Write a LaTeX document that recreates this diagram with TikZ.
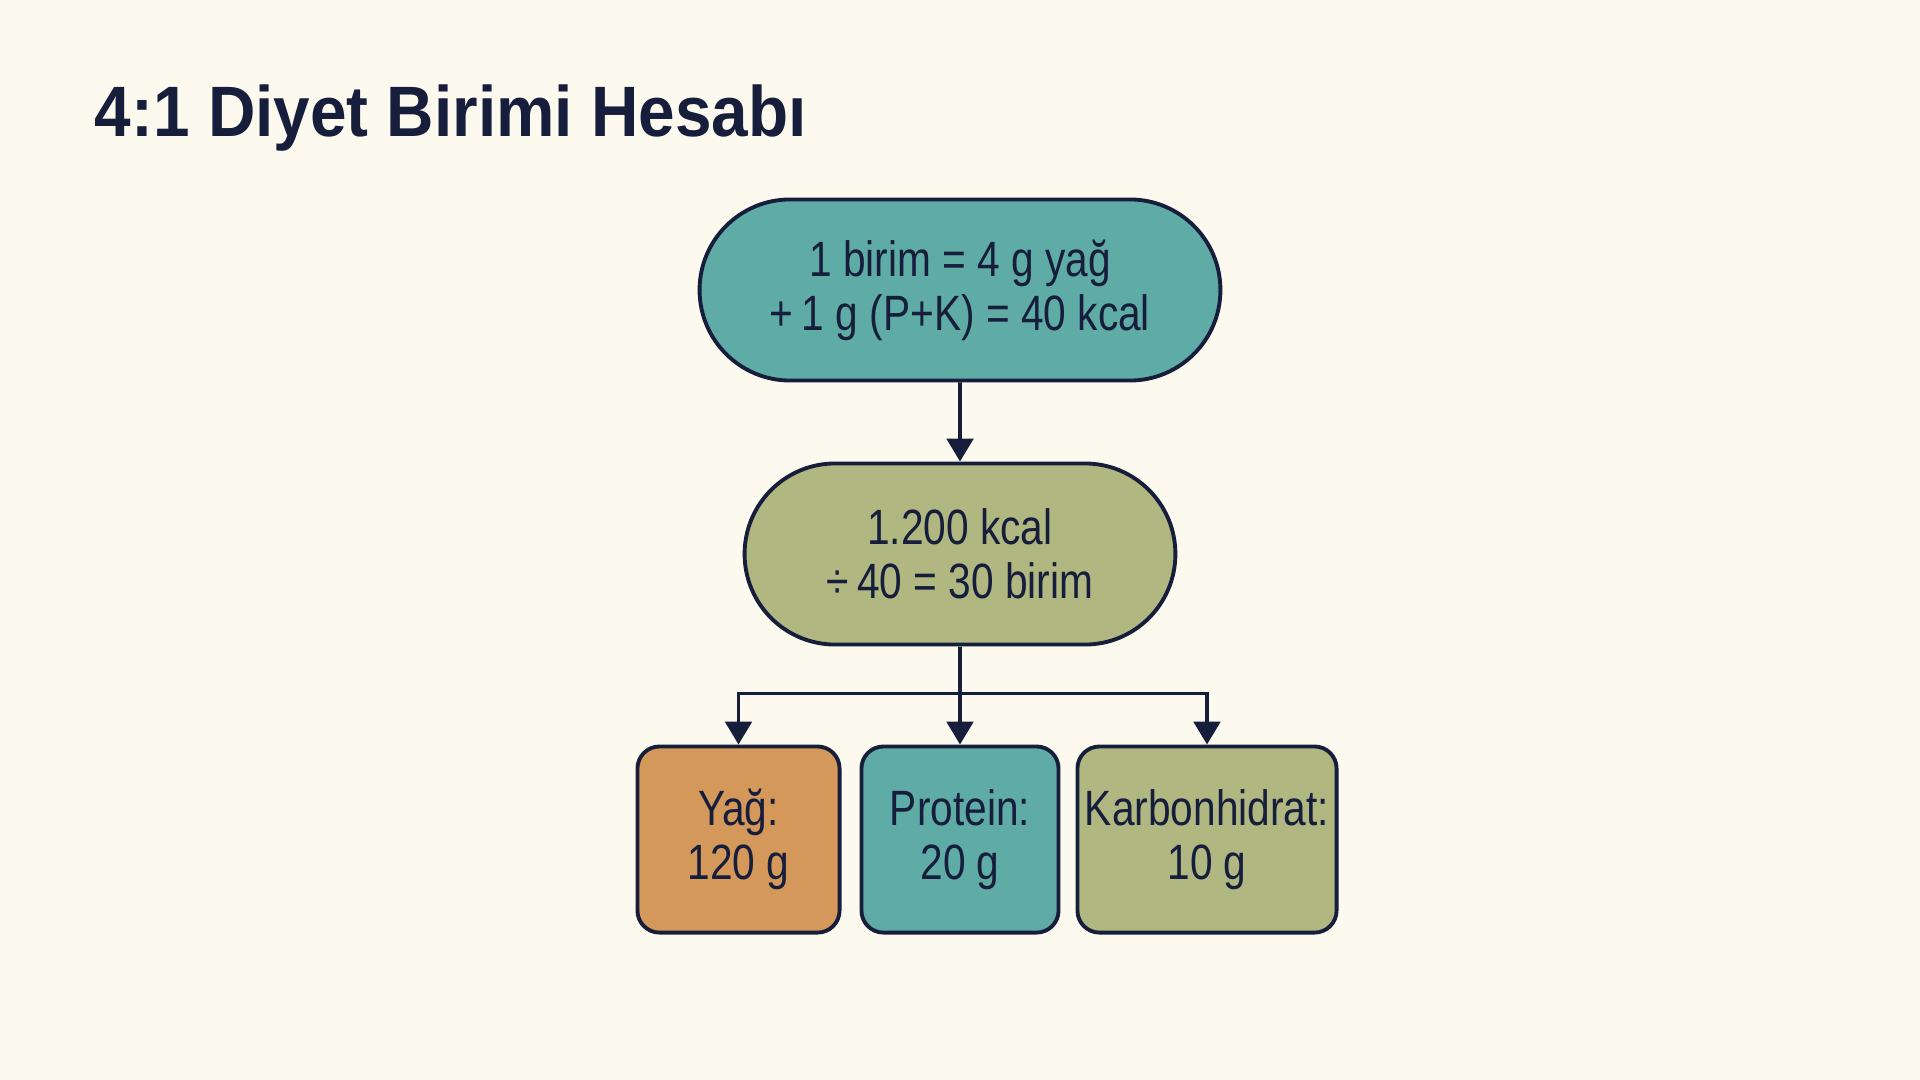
\documentclass[tikz,border=0pt]{standalone}
\usepackage{fontspec}
\newfontfamily\headfont[FakeStretch=0.92]{Liberation Sans}
\newfontfamily\bodyfont[FakeStretch=0.82]{Liberation Sans}
\usepackage{tikz}
\usetikzlibrary{shapes.misc, positioning, arrows.meta}
\definecolor{bgcream}{HTML}{FCF9EE}
\definecolor{navy}{HTML}{161E3C}
\definecolor{tealbox}{HTML}{5FABA5}
\definecolor{olivebox}{HTML}{B0B780}
\definecolor{orangebox}{HTML}{D4985A}
\tikzset{
	>={Triangle[length=6.5pt,width=7.5pt]}, % filled arrow heads
	every path/.style={draw=navy, line width=1.1pt}, % lines in dark navy
	pill/.style={rounded rectangle, draw=navy, line width=1.1pt, align=center, text=navy, font=\bodyfont\fontsize{14.1}{15.4}\selectfont, minimum height=1.81cm}, % the rounded pill steps
	macro/.style={rectangle, rounded corners=0.22cm, draw=navy, line width=1.1pt, inner sep=0.05cm, align=center, text=navy, font=\bodyfont\fontsize{14.1}{15.4}\selectfont, minimum height=1.86cm}, % the three result boxes
	heading/.style={anchor=base west, inner sep=0pt, text=navy, font=\headfont\bfseries\fontsize{20.3}{24}\selectfont}, % sets the title
}
\begin{document}
\begin{tikzpicture}[x=0.01cm, y=-0.01cm]
	\fill[bgcream, draw=none] (0,0) rectangle (1920,1080);
	\node[heading] (title) at (93,137) {4:1 Diyet Birimi Hesabı};
	\node[pill, fill=tealbox, minimum width=5.44cm] (unit) at (960,290) {1 birim = 4 g yağ\\+\,1 g (P+K) = 40 kcal};
	\node[pill, fill=olivebox, minimum width=4.54cm, below=0.79cm of unit] (total) {1.200 kcal\\÷\,40 = 30 birim};
	\node[macro, fill=tealbox, minimum width=1.97cm, below=0.98cm of total] (protein) {Protein:\\20 g};
	\node[macro, fill=orangebox, minimum width=2.02cm, left=0.18cm of protein] (fat) {Yağ:\\120 g};
	\node[macro, fill=olivebox, minimum width=2.59cm, right=0.15cm of protein] (carb) {Karbonhidrat:\\10 g};
	\coordinate[below=0.47cm of total] (split);
	\draw[->] (unit) -- (total);
	\draw[->] (total) -- (protein);
	\draw[->] (split) -| (fat);
	\draw[->] (split) -| (carb);
\end{tikzpicture}
\end{document}
